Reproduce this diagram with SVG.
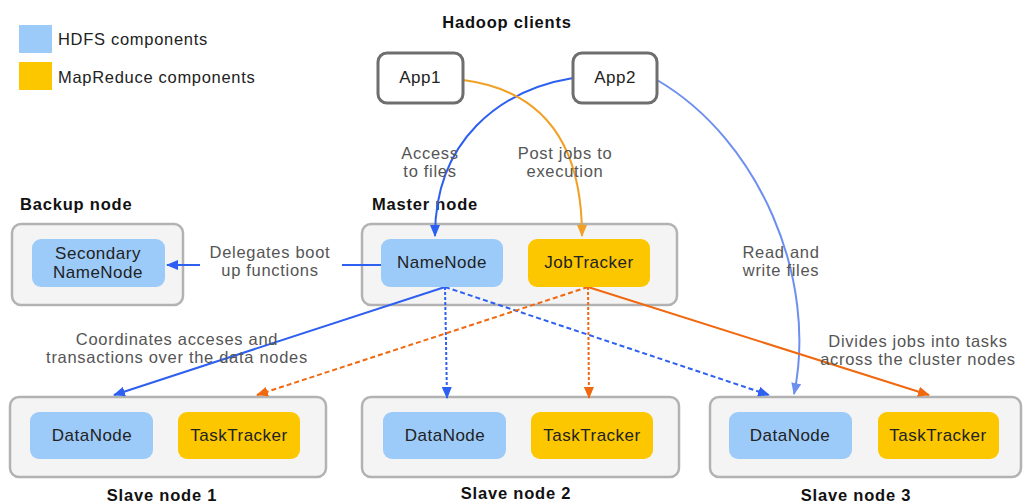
<svg xmlns="http://www.w3.org/2000/svg" width="1023" height="504" viewBox="0 0 1023 504">
  <style>
    text { font-family: "Liberation Sans", Arial, sans-serif; }
    .node { font-size: 17px; letter-spacing: 0.5px; fill: #222; text-anchor: middle; }
    .label { font-size: 16.5px; letter-spacing: 0.7px; fill: #555; text-anchor: middle; }
    .title { font-size: 16.5px; letter-spacing: 0.8px; font-weight: bold; fill: #111; }
    .legend { font-size: 16.5px; letter-spacing: 0.7px; fill: #222; }
    .box { fill: #f4f4f4; stroke: #b2b2b2; stroke-width: 2.5; }
    .app { fill: #fff; stroke: #6e6e6e; stroke-width: 3; }
    .hdfs { fill: #9ccbfa; }
    .mr { fill: #fdc700; }
    .edge { fill: none; stroke-width: 2; }
    .blue { stroke: #2d5ff0; }
    .lblue { stroke: #6d8ff0; }
    .orange { stroke: #f0680f; }
    .amber { stroke: #f0a025; }
    .dash { stroke-dasharray: 5 3; }
    .dot { stroke-dasharray: 3 2; }
  </style>
  <defs>
    <marker id="ah-blue" viewBox="0 0 12 10" refX="11" refY="5" markerWidth="12" markerHeight="10" markerUnits="userSpaceOnUse" orient="auto">
      <path d="M0,0 L12,5 L0,10 Z" fill="#2d5ff0"/>
    </marker>
    <marker id="ah-lblue" viewBox="0 0 12 10" refX="11" refY="5" markerWidth="12" markerHeight="10" markerUnits="userSpaceOnUse" orient="auto">
      <path d="M0,0 L12,5 L0,10 Z" fill="#6d8ff0"/>
    </marker>
    <marker id="ah-orange" viewBox="0 0 12 10" refX="11" refY="5" markerWidth="12" markerHeight="10" markerUnits="userSpaceOnUse" orient="auto">
      <path d="M0,0 L12,5 L0,10 Z" fill="#f0680f"/>
    </marker>
    <marker id="ah-amber" viewBox="0 0 12 10" refX="11" refY="5" markerWidth="12" markerHeight="10" markerUnits="userSpaceOnUse" orient="auto">
      <path d="M0,0 L12,5 L0,10 Z" fill="#f0a025"/>
    </marker>
  </defs>

  <rect width="1023" height="504" fill="#fff"/>

  <!-- legend -->
  <g id="legend">
    <rect x="19" y="25" width="33" height="28" class="hdfs"/>
    <text x="58" y="45" class="legend">HDFS components</text>
    <rect x="19" y="62" width="33" height="28" class="mr"/>
    <text x="58" y="83" class="legend">MapReduce components</text>
  </g>

  <!-- group titles -->
  <text x="507" y="28" class="title" text-anchor="middle">Hadoop clients</text>
  <text x="20" y="210" class="title">Backup node</text>
  <text x="372" y="210" class="title">Master node</text>
  <text x="162" y="501" class="title" text-anchor="middle">Slave node 1</text>
  <text x="516" y="499" class="title" text-anchor="middle">Slave node 2</text>
  <text x="856" y="501" class="title" text-anchor="middle">Slave node 3</text>

  <!-- container boxes -->
  <g id="containers">
    <rect x="12" y="224" width="171" height="81" rx="9" class="box"/>
    <rect x="362" y="224" width="315" height="81" rx="9" class="box"/>
    <rect x="10" y="397" width="316" height="80" rx="9" class="box"/>
    <rect x="362" y="397" width="317" height="80" rx="9" class="box"/>
    <rect x="710" y="397" width="311" height="80" rx="9" class="box"/>
  </g>

  <!-- connectors -->
  <g id="connectors">
    <path d="M573,78 C500,90 435,140 435,236" class="edge blue" marker-end="url(#ah-blue)"/>
    <path d="M463,80 C540,90 582,140 582,236" class="edge amber" marker-end="url(#ah-amber)"/>
    <path d="M657,80 C760,140 818,280 794,394" class="edge lblue" marker-end="url(#ah-lblue)"/>
    <path d="M381,265 L342,265" class="edge blue"/>
    <path d="M200,265 L167,265" class="edge blue" marker-end="url(#ah-blue)"/>
    <path d="M445,287 L114,395" class="edge blue" marker-end="url(#ah-blue)"/>
    <path d="M445,287 L447,398" class="edge blue dot" marker-end="url(#ah-blue)"/>
    <path d="M445,287 L769,395" class="edge blue dash" marker-end="url(#ah-blue)"/>
    <path d="M588,287 L257,395" class="edge orange dash" marker-end="url(#ah-orange)"/>
    <path d="M588,287 L589,398" class="edge orange dot" marker-end="url(#ah-orange)"/>
    <path d="M588,287 L929,395" class="edge orange" marker-end="url(#ah-orange)"/>
  </g>

  <!-- connector labels -->
  <g id="edge-labels">
    <text x="430" y="159" class="label">Access</text>
    <text x="430" y="177" class="label">to files</text>
    <text x="565" y="159" class="label">Post jobs to</text>
    <text x="565" y="177" class="label">execution</text>
    <text x="781" y="258" class="label">Read and</text>
    <text x="781" y="276" class="label">write files</text>
    <text x="270" y="258" class="label">Delegates boot</text>
    <text x="270" y="276" class="label">up functions</text>
    <text x="177" y="345" class="label">Coordinates acceses and</text>
    <text x="177" y="363" class="label">transactions over the data nodes</text>
    <text x="918" y="347" class="label">Divides jobs into tasks</text>
    <text x="918" y="365" class="label">across the cluster nodes</text>
  </g>

  <!-- clients -->
  <g id="app1">
    <rect x="378" y="53" width="85" height="50" rx="9" class="app"/>
    <text x="420" y="83" class="node">App1</text>
  </g>
  <g id="app2">
    <rect x="573" y="53" width="84" height="50" rx="9" class="app"/>
    <text x="615" y="83" class="node">App2</text>
  </g>

  <!-- backup node -->
  <g id="secondary-namenode">
    <rect x="32" y="239" width="133" height="48" rx="9" class="hdfs"/>
    <text x="98" y="259" class="node">Secondary</text>
    <text x="98" y="278" class="node">NameNode</text>
  </g>

  <!-- master node -->
  <g id="namenode">
    <rect x="381" y="239" width="122" height="48" rx="9" class="hdfs"/>
    <text x="442" y="268" class="node">NameNode</text>
  </g>
  <g id="jobtracker">
    <rect x="528" y="239" width="122" height="48" rx="9" class="mr"/>
    <text x="589" y="268" class="node">JobTracker</text>
  </g>

  <!-- slave node 1 -->
  <g id="datanode-1">
    <rect x="30" y="412" width="123" height="47" rx="9" class="hdfs"/>
    <text x="92" y="441" class="node">DataNode</text>
  </g>
  <g id="tasktracker-1">
    <rect x="178" y="412" width="122" height="47" rx="9" class="mr"/>
    <text x="239" y="441" class="node">TaskTracker</text>
  </g>

  <!-- slave node 2 -->
  <g id="datanode-2">
    <rect x="383" y="412" width="123" height="47" rx="9" class="hdfs"/>
    <text x="445" y="441" class="node">DataNode</text>
  </g>
  <g id="tasktracker-2">
    <rect x="531" y="412" width="122" height="47" rx="9" class="mr"/>
    <text x="592" y="441" class="node">TaskTracker</text>
  </g>

  <!-- slave node 3 -->
  <g id="datanode-3">
    <rect x="729" y="412" width="123" height="47" rx="9" class="hdfs"/>
    <text x="790" y="441" class="node">DataNode</text>
  </g>
  <g id="tasktracker-3">
    <rect x="878" y="412" width="121" height="47" rx="9" class="mr"/>
    <text x="938" y="441" class="node">TaskTracker</text>
  </g>
</svg>
